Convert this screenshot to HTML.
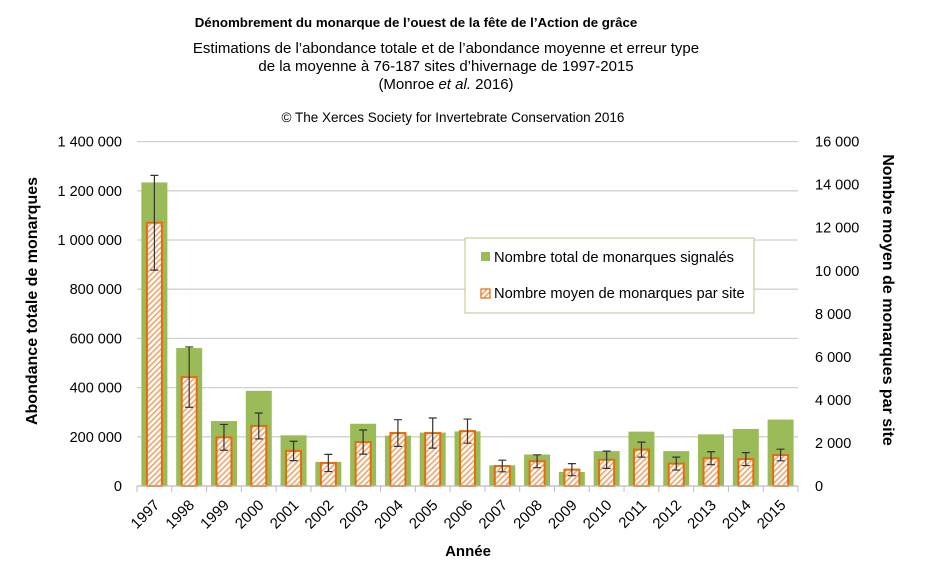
<!DOCTYPE html>
<html><head><meta charset="utf-8"><style>
body{margin:0;background:#fff;}
svg text{font-family:"Liberation Sans",sans-serif;}
</style></head><body>
<svg id="chart" width="932" height="576" xmlns="http://www.w3.org/2000/svg">
<defs>
<pattern id="hatch" width="4" height="4" patternUnits="userSpaceOnUse" patternTransform="rotate(45)">
<rect width="4" height="4" fill="#fff"/>
<rect width="1.6" height="4" fill="#f2a36a"/>
</pattern>
</defs>
<text x="416" y="27" text-anchor="middle" font-size="13.3" font-weight="bold">Dénombrement du monarque de l’ouest de la fête de l’Action de grâce</text>
<text x="446" y="53" text-anchor="middle" font-size="15">Estimations de l’abondance totale et de l’abondance moyenne et erreur type</text>
<text x="446" y="71" text-anchor="middle" font-size="15">de la moyenne à 76-187 sites d’hivernage de 1997-2015</text>
<text x="446" y="89" text-anchor="middle" font-size="15">(Monroe <tspan font-style="italic">et al.</tspan> 2016)</text>
<text x="453" y="122" text-anchor="middle" font-size="13.5">© The Xerces Society for Invertebrate Conservation 2016</text>
<g id="grid"></g>
<g id="bars"></g>
<g id="axes"></g>
<text transform="translate(37,301) rotate(-90)" text-anchor="middle" font-size="16" font-weight="bold">Abondance totale de monarques</text>
<text transform="translate(883,300) rotate(90)" text-anchor="middle" font-size="16" font-weight="bold">Nombre moyen de monarques par site</text>
<text x="468" y="556" text-anchor="middle" font-size="15" font-weight="bold">Année</text>
<g>
<rect x="465" y="238" width="289" height="75" fill="#fff" stroke="#b5c98a" stroke-width="1"/>
<rect x="481" y="252" width="9" height="9" fill="#9bbb59"/>
<text x="494" y="262" font-size="14.7">Nombre total de monarques signalés</text>
<rect x="481" y="289" width="9" height="9" fill="url(#hatch)" stroke="#e46c0a" stroke-width="1.2"/>
<text x="494" y="298" font-size="14.7">Nombre moyen de monarques par site</text>
</g>
</svg>
<script>
const years=["1997","1998","1999","2000","2001","2002","2003","2004","2005","2006","2007","2008","2009","2010","2011","2012","2013","2014","2015"];
const totals=[1234000,561000,264000,387000,206000,98000,253000,205000,217000,222000,84000,128000,57000,142000,221000,142000,210000,232000,270000];
const means=[12230,5060,2260,2790,1630,1070,2040,2460,2460,2550,930,1150,760,1220,1690,1040,1290,1250,1440];
const errs=[2200,1400,600,600,450,400,560,620,700,560,270,300,280,400,350,300,300,300,270];
const leftTicks=[0,200000,400000,600000,800000,1000000,1200000,1400000];
const rightTicks=[0,2000,4000,6000,8000,10000,12000,14000,16000];
const X0=137,X1=798,Y0=486,Y1=141.6,NS="http://www.w3.org/2000/svg";
const band=(X1-X0)/years.length;
const xc=i=>X0+band*(i+0.5);
const yL=v=>Y0-(v/1400000)*(Y0-Y1);
const yR=v=>Y0-(v/16000)*(Y0-Y1);
const fmt=v=>String(v).replace(/\B(?=(\d{3})+(?!\d))/g," ");
function mk(tag,attrs,parent){const e=document.createElementNS(NS,tag);for(const k in attrs)e.setAttribute(k,attrs[k]);parent.appendChild(e);return e;}
const grid=document.getElementById('grid'),bars=document.getElementById('bars'),axes=document.getElementById('axes');
leftTicks.forEach(v=>{
 if(v>0){const g=mk('line',{x1:X0,x2:X1,y1:yL(v),y2:yL(v),stroke:'#d0d0d0','stroke-width':1.3},grid);
 
 }
 const t=mk('text',{x:122,y:yL(v)+5,'text-anchor':'end','font-size':14.5},axes);t.textContent=fmt(v);
 
 
});
rightTicks.forEach(v=>{
 const t=mk('text',{x:815,y:yR(v)+5,'font-size':14.5},axes);t.textContent=fmt(v);
 
 
});
years.forEach((y,i)=>{
 const c=xc(i);
 const g=mk('rect',{x:c-13,y:yL(totals[i]),width:26,height:Y0-yL(totals[i]),fill:'#9bbb59'},bars);
 
 
 const o=mk('rect',{x:c-7.5,y:yR(means[i]),width:15,height:Y0-yR(means[i]),fill:'url(#hatch)',stroke:'#e46c0a','stroke-width':2},bars);
 
 
 const et=yR(means[i]+errs[i]),eb=yR(means[i]-errs[i]);
 const e=mk('path',{d:`M${c},${et}V${eb}M${c-4},${et}H${c+4}M${c-4},${eb}H${c+4}`,stroke:'#333','stroke-width':1.2,fill:'none'},bars);
 
 
 const t=mk('text',{transform:`translate(${c+6},${Y0+20}) rotate(-45)`,'text-anchor':'end','font-size':15},axes);t.textContent=y;
 
 
});
for(let i=0;i<=years.length;i++){const x=X0+band*i;mk('line',{x1:x,x2:x,y1:Y0,y2:Y0+6,stroke:'#bbb'},axes);}
const ax=mk('line',{x1:X0,x2:X1,y1:Y0,y2:Y0,stroke:'#bbb','stroke-width':1.3},axes);


</script>
</body></html>
